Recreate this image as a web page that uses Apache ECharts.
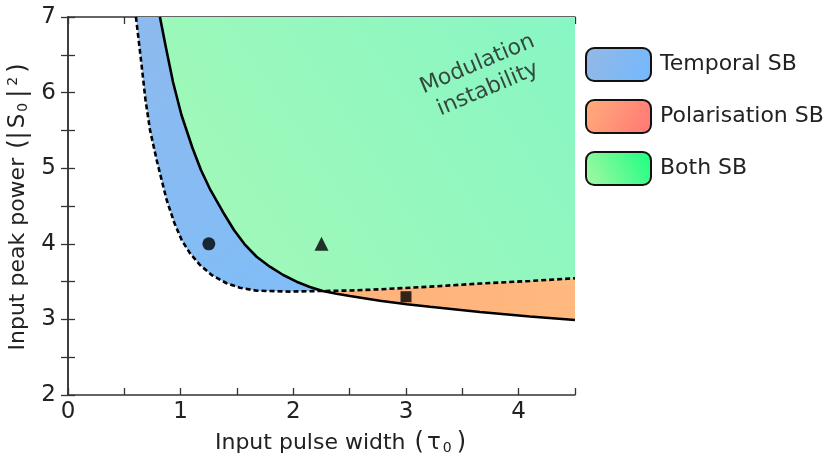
<!DOCTYPE html>
<html>
<head>
<meta charset="utf-8">
<script src="https://cdn.jsdelivr.net/npm/echarts@6/dist/echarts.min.js"></script>
<style>
  html, body { margin: 0; background: #fff; }
  #main { width: 830px; height: 464px; }
</style>
</head>
<body>
<div id="main"></div>
<script>
// boundary curves (pulse width, peak power)
const dashedX = [0.603, 0.648, 0.688, 0.728, 0.787, 0.831, 0.876, 0.941, 1.009, 1.083, 1.171, 1.275, 1.408, 1.526, 1.674, 1.97, 2.26, 2.502, 2.768, 3.212, 3.656, 4.099, 4.5];
const dashedY = [7.0, 6.431, 5.902, 5.505, 5.108, 4.844, 4.579, 4.288, 4.05, 3.874, 3.72, 3.587, 3.478, 3.419, 3.38, 3.368, 3.376, 3.382, 3.398, 3.433, 3.474, 3.508, 3.544];
const solidX = [0.816, 0.87, 0.932, 1.007, 1.105, 1.18, 1.264, 1.375, 1.473, 1.566, 1.674, 1.792, 1.91, 2.029, 2.147, 2.26, 2.384, 2.502, 2.768, 3.008, 3.212, 3.656, 4.099, 4.5];
const solidY = [7.0, 6.59, 6.14, 5.704, 5.267, 4.976, 4.712, 4.421, 4.183, 3.997, 3.829, 3.697, 3.587, 3.499, 3.429, 3.376, 3.339, 3.31, 3.247, 3.2, 3.167, 3.098, 3.038, 2.992];
const crossX = 2.26;

const markerX = [1.25, 2.25, 3.0];
const markerY = [4.0, 4.0, 3.3];
const markerShape = ['circle', 'triangle', 'rect'];
const markerSize = [13, 14, 11];

const regionNames = ['Temporal SB', 'Polarisation SB', 'Both SB'];
const xTicks = [0, 1, 2, 3, 4];
const yTicks = [2, 3, 4, 5, 6, 7];

const FONT = 'DejaVu Sans';
const xMax = 4.5, yMax = 7;

function pts(xs, ys, keep) {
  const out = [];
  xs.forEach((x, i) => { if (keep(x)) out.push([x, ys[i]]); });
  return out;
}
const dashLeft = pts(dashedX, dashedY, x => x <= crossX);
const dashRight = pts(dashedX, dashedY, x => x >= crossX);
const solidLeft = pts(solidX, solidY, x => x <= crossX);
const solidRight = pts(solidX, solidY, x => x >= crossX);

const regions = {
  'Temporal SB': dashLeft.concat(solidLeft.slice().reverse()),
  'Polarisation SB': dashRight.concat(solidRight.slice().reverse()),
  'Both SB': solidLeft.concat(dashRight, [[xMax, yMax]])
};

const grad = (x, y, x2, y2, c0, c1) => new echarts.graphic.LinearGradient(x, y, x2, y2, [
  { offset: 0, color: c0 }, { offset: 1, color: c1 }
]);
const fillColor = {
  'Temporal SB': grad(0, 0, 1, 1, '#8dbaee', '#80bdf8'),
  'Polarisation SB': grad(0, 0, 1, 1, '#ffb07c', '#ffb97e'),
  'Both SB': grad(0, 1, 1, 0, '#a4f9b6', '#88f6c4')
};
const legendColor = {
  'Temporal SB': grad(0, 0, 1, 1, '#95b8e4', '#72b8ff'),
  'Polarisation SB': grad(0, 0, 1, 1, '#ffae7a', '#ff7676'),
  'Both SB': grad(0, 1, 1, 0, '#a9f7a6', '#19ff80')
};

const regionSeries = regionNames.map(name => ({
  name: name,
  type: 'custom',
  z: 1,
  silent: true,
  itemStyle: { color: fillColor[name] },
  data: [0],
  renderItem: (params, api) => ({
    type: 'polygon',
    shape: { points: regions[name].map(p => api.coord(p)) },
    style: { fill: fillColor[name] }
  })
}));

const frameAxis = {
  axisLine: { show: true, lineStyle: { color: '#333', width: 1.5 } },
  axisTick: { show: true, inside: true, length: 7, lineStyle: { color: '#333', width: 1.3 } },
  axisLabel: { show: false },
  splitLine: { show: false }
};

const nameRich = {
  b: { fontFamily: FONT, fontSize: 24, color: '#222', padding: [0, 2] },
  s: { fontFamily: FONT, fontSize: 23, color: '#222', padding: [0, 1] },
  sub: { fontFamily: FONT, fontSize: 14, color: '#222', verticalAlign: 'bottom', padding: [0, 3, 0, 1] },
  sup: { fontFamily: FONT, fontSize: 14, color: '#222', verticalAlign: 'top', padding: [0, 2] }
};

const chart = echarts.init(document.getElementById('main'));
chart.setOption({
  animation: false,
  textStyle: { fontFamily: FONT },
  grid: { left: 68, right: 255, top: 17, bottom: 69, outerBoundsMode: 'none', containLabel: false },
  legend: {
    orient: 'vertical',
    left: 585, top: 47, padding: 0,
    itemWidth: 65, itemHeight: 33, itemGap: 17,
    icon: 'roundRect',
    selectedMode: false,
    textStyle: { fontFamily: FONT, fontSize: 22, color: '#222', padding: [0, 0, 0, 4] },
    data: regionNames.map(name => ({
      name: name,
      itemStyle: { color: legendColor[name], borderColor: '#111', borderWidth: 2 }
    }))
  },
  xAxis: [
    {
      type: 'value', min: 0, max: xMax, interval: 0.5,
      name: 'Input pulse width {b|(}{s|τ}{sub|0}{b|)}', nameLocation: 'middle', nameGap: 36,
      nameTextStyle: { fontFamily: FONT, fontSize: 22, color: '#222', rich: nameRich, padding: [0, 0, 0, 40] },
      axisLine: { show: true, onZero: false, lineStyle: { color: '#333', width: 1.5 } },
      axisTick: { inside: true, length: 7, lineStyle: { color: '#333', width: 1.3 } },
      axisLabel: {
        fontFamily: FONT, fontSize: 23, color: '#222', margin: 6,
        formatter: v => xTicks.includes(v) ? String(v) : ''
      },
      splitLine: { show: false }
    },
    Object.assign({}, frameAxis, { type: 'value', position: 'top', min: 0, max: xMax, interval: 0.5 })
  ],
  yAxis: [
    {
      type: 'value', min: 2, max: yMax, interval: 0.5,
      name: 'Input peak power {b|(|}{s|S}{sub|0}{b||}{sup|2}{b|)}',
      nameLocation: 'middle', nameGap: 35, nameRotate: 90,
      nameTextStyle: { fontFamily: FONT, fontSize: 22, color: '#222', rich: nameRich },
      axisLine: { show: true, onZero: false, lineStyle: { color: '#333', width: 1.5 } },
      axisTick: { inside: true, length: 7, lineStyle: { color: '#333', width: 1.3 } },
      axisLabel: {
        fontFamily: FONT, fontSize: 23, color: '#222', margin: 12,
        formatter: v => yTicks.includes(v) ? String(v) : ''
      },
      splitLine: { show: false }
    },
    Object.assign({}, frameAxis, { type: 'value', position: 'right', min: 2, max: yMax, interval: 0.5 })
  ],
  series: regionSeries.concat([
    {
      name: 'dashed', type: 'line', z: 3, silent: true,
      showSymbol: false,
      data: dashedX.map((x, i) => [x, dashedY[i]]),
      lineStyle: { color: '#000', width: 2.6, type: [5, 3] }
    },
    {
      name: 'solid', type: 'line', z: 3, silent: true,
      showSymbol: false,
      data: solidX.map((x, i) => [x, solidY[i]]),
      lineStyle: { color: '#000', width: 2.6 }
    },
    {
      name: 'markers', type: 'scatter', z: 4, silent: true,
      data: markerX.map((x, i) => ({
        value: [x, markerY[i]],
        symbol: markerShape[i],
        symbolSize: markerSize[i]
      })),
      itemStyle: { color: '#000' }
    },
    {
      name: 'annotation', type: 'scatter', z: 4, silent: true,
      symbolSize: 0,
      data: [[3.68, 6.21]],
      label: {
        show: true, position: 'inside', rotate: 23,
        formatter: 'Modulation\ninstability',
        fontFamily: FONT, fontSize: 22, lineHeight: 27, color: '#1c1c1c', align: 'center'
      }
    }
  ])
});
</script>
</body>
</html>
